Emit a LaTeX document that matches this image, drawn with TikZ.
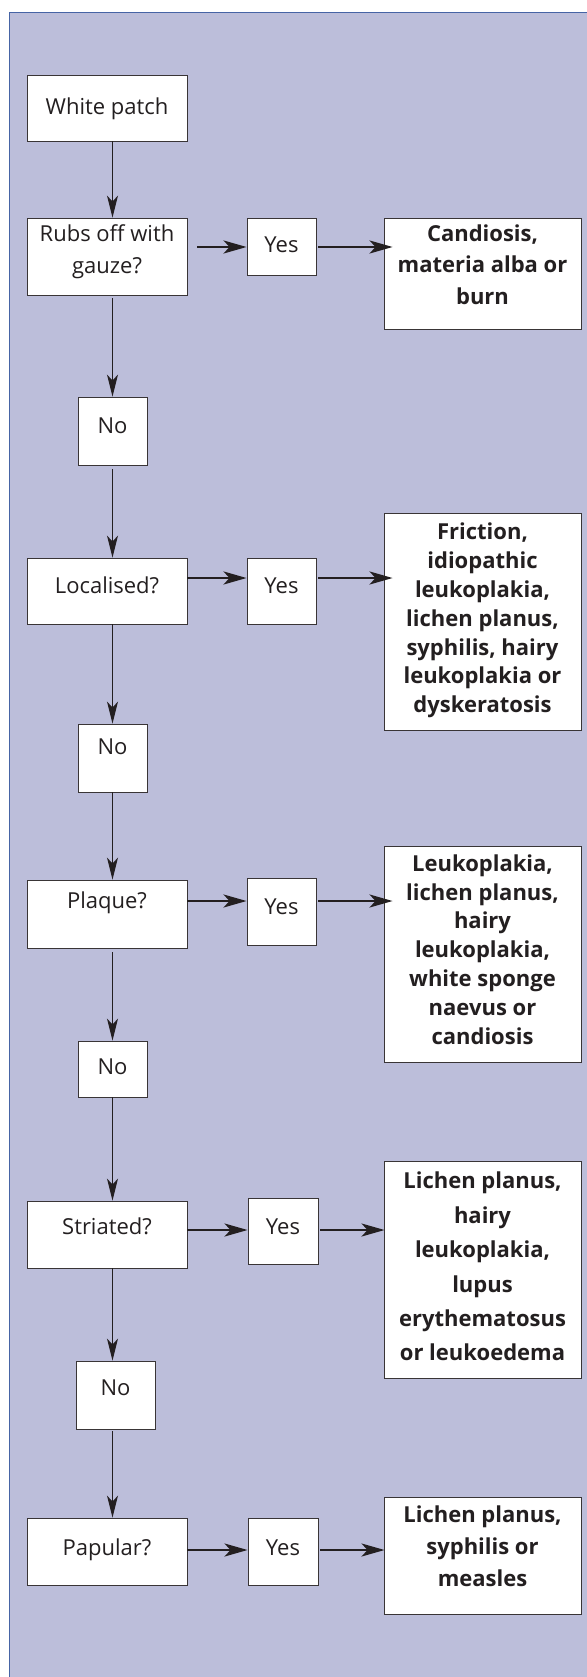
\documentclass[tikz,border=0pt]{standalone}
\usepackage{fontspec}
\setmainfont{Open Sans}
\usetikzlibrary{arrows.meta}
\definecolor{bg}{RGB}{188,190,218}
\definecolor{frameblue}{RGB}{70,100,165}
\definecolor{ink}{RGB}{35,31,32}
\newcommand{\rup}[2]{\raisebox{#1}[\height][\depth]{\begin{tabular}{@{}c@{}}#2\end{tabular}}}
\begin{document}
\begin{tikzpicture}[x=1pt,y=-1pt,
  box/.style={draw=ink!90, line width=0.9pt, fill=white, inner sep=0pt, text=ink,
              font=\fontsize{22}{32}\selectfont},
  qbox/.style={box, minimum width=160pt},
  nobox/.style={box, minimum width=69pt},
  yesbox/.style={box, minimum width=69pt},
  resbox/.style={box, minimum width=197pt, font=\fontsize{22}{28.8}\selectfont\bfseries},
  varrow/.style={-{Stealth[length=22pt,width=11pt,inset=6pt]}, line width=1.1pt, draw=ink},
  harrow/.style={-{Stealth[length=23pt,width=13pt,inset=6pt]}, line width=2.6pt, draw=ink}
]
\useasboundingbox (0,0) rectangle (586,1677);
\fill[bg] (9.5,13) rectangle (600,1690);
\draw[frameblue, line width=1pt] (9.5,1690) -- (9.5,13) -- (600,13);

% left column
\node[qbox, minimum height=66pt] (white) at (107,108) {\rup{0pt}{White patch}};
\node[qbox, minimum height=77pt] (rubs) at (107,256.5) {\rup{5.5pt}{Rubs off with\\gauze?}};
\node[nobox, minimum height=68pt] (no1) at (112.5,431) {\rup{4pt}{No}};
\node[qbox, minimum height=66pt] (loc) at (107,591) {\rup{4pt}{Localised?}};
\node[nobox, minimum height=68pt] (no2) at (112.5,758) {\rup{10pt}{No}};
\node[qbox, minimum height=68pt] (plaque) at (107,914) {\rup{12pt}{Plaque?}};
\node[nobox, minimum height=56pt] (no3) at (112.5,1069) {\rup{1pt}{No}};
\node[qbox, minimum height=67pt] (striated) at (107,1234.5) {\rup{6.5pt}{Striated?}};
\node[box, minimum width=79pt, minimum height=68pt] (no4) at (115.5,1395) {\rup{6pt}{No}};
\node[qbox, minimum height=67pt] (papular) at (107,1551.5) {\rup{2.5pt}{Papular?}};

% yes column
\node[yesbox, minimum height=57pt] (yes1) at (281.5,246.5) {\rup{0pt}{Yes}};
\node[yesbox, minimum height=66pt] (yes2) at (281.5,591) {\rup{4pt}{Yes}};
\node[yesbox, minimum height=67pt] (yes3) at (281.5,911.5) {\rup{3.5pt}{Yes}};
\node[yesbox, minimum width=70pt, minimum height=66pt] (yes4) at (283,1231) {\rup{3pt}{Yes}};
\node[yesbox, minimum width=70pt, minimum height=67pt] (yes5) at (283,1551.5) {\rup{2.5pt}{Yes}};

% result column
\node[resbox, minimum height=111pt, font=\fontsize{22}{31.5}\selectfont\bfseries] (cand) at (482.5,273.5)
  {\rup{7pt}{Candiosis,\\materia alba or\\burn}};
\node[resbox, minimum height=217pt] (fric) at (482.5,621.5)
  {\rup{1pt}{Friction,\\idiopathic\\leukoplakia,\\lichen planus,\\syphilis, hairy\\leukoplakia or\\dyskeratosis}};
\node[resbox, minimum height=216pt] (leuk) at (482.5,954)
  {\rup{2pt}{Leukoplakia,\\lichen planus,\\hairy\\leukoplakia,\\white sponge\\naevus or\\candiosis}};
\node[resbox, minimum height=217pt, font=\fontsize{22}{34.4}\selectfont\bfseries] (lich1) at (482.5,1269.5)
  {\rup{1.5pt}{Lichen planus,\\hairy\\leukoplakia,\\lupus\\erythematosus\\or leukoedema}};
\node[resbox, minimum height=117pt, font=\fontsize{22}{32}\selectfont\bfseries] (lich2) at (482.5,1555.5)
  {\rup{7.5pt}{Lichen planus,\\syphilis or\\measles}};

% vertical connectors
\draw[varrow] (white.south -| no1.center) -- (rubs.north -| no1.center);
\draw[varrow, shorten <=3pt] (rubs.south -| no1.center) -- (no1.north);
\draw[varrow, shorten <=4pt] (no1.south) -- (loc.north -| no1.center);
\draw[varrow] (loc.south -| no1.center) -- (no2.north);
\draw[varrow] (no2.south) -- (plaque.north -| no1.center);
\draw[varrow, shorten <=4pt] (plaque.south -| no1.center) -- (no3.north);
\draw[varrow] (no3.south) -- (striated.north -| no1.center);
\draw[varrow] (striated.south -| no1.center) -- (no4.north -| no1.center);
\draw[varrow, shorten <=2pt] (no4.south -| no1.center) -- (papular.north -| no1.center);

% row levels
\coordinate (r1) at (0,247);
\coordinate (r2) at (0,578);
\coordinate (r3) at (0,901);
\coordinate (r4) at (0,1230);
\coordinate (r5) at (0,1550);

% horizontal connectors
\draw[harrow] ([xshift=10pt]rubs.east |- r1) -- (yes1.west |- r1);
\draw[harrow] ([xshift=2pt]yes1.east |- r1) -- ([xshift=9pt]cand.west |- r1);
\draw[harrow] (loc.east |- r2) -- (yes2.west |- r2);
\draw[harrow] ([xshift=2pt]yes2.east |- r2) -- ([xshift=9pt]fric.west |- r2);
\draw[harrow] (plaque.east |- r3) -- (yes3.west |- r3);
\draw[harrow] ([xshift=2pt]yes3.east |- r3) -- ([xshift=9pt]leuk.west |- r3);
\draw[harrow] (striated.east |- r4) -- (yes4.west |- r4);
\draw[harrow] ([xshift=2pt]yes4.east |- r4) -- ([xshift=1pt]lich1.west |- r4);
\draw[harrow] (papular.east |- r5) -- (yes5.west |- r5);
\draw[harrow] ([xshift=2pt]yes5.east |- r5) -- ([xshift=1pt]lich2.west |- r5);
\end{tikzpicture}
\end{document}
